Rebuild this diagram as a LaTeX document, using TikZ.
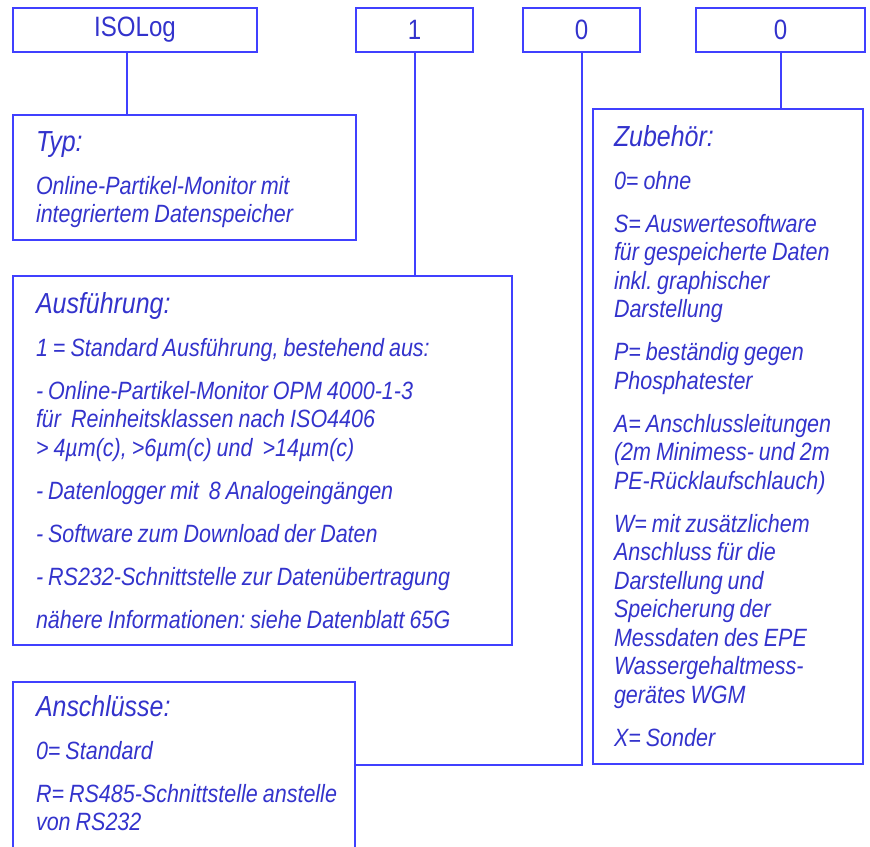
\documentclass[tikz,border=0pt]{standalone}
\usepackage{fontspec}
\setmainfont{Liberation Sans}[FakeStretch=0.86]
\usepackage{tikz}
\usetikzlibrary{positioning}
\definecolor{lineblue}{RGB}{64,64,255}
\definecolor{textblue}{RGB}{51,51,204}
\newcommand{\hfont}{\fontsize{29}{28.5}\selectfont}
\newcommand{\tightspace}{\frenchspacing\spaceskip 5pt plus 1pt minus 0.5pt\relax}

\begin{document}
\begin{tikzpicture}[x=1pt,y=-1pt]
\tikzstyle{code}=[rectangle, draw=lineblue, line width=2pt, anchor=north west, minimum height=44pt, inner sep=0pt, text=textblue, font=\fontsize{28}{30}\selectfont]
\tikzstyle{info}=[rectangle, draw=lineblue, line width=2pt, anchor=north west, align=left, inner xsep=23pt, inner ysep=0pt, text height=37pt, text=textblue, font=\fontsize{25}{28.5}\selectfont\itshape, execute at begin node=\tightspace]
\tikzstyle{connect}=[draw=lineblue, line width=2pt]

\useasboundingbox (0,0) rectangle (870,846);

  \node[code, minimum width=244pt] (iso) at (12,7) {ISOLog};
  \node[code, minimum width=117pt] (one) at (355,7) {1};
  \node[code, minimum width=117pt] (zeroA) at (522,7) {0};
  \node[code, minimum width=169pt] (zeroB) at (695,7) {0};

  \node[info, text width=297pt, text height=36pt, text depth=89pt] (typ) at (12,114)
    {{\hfont Typ:}\\[14.5pt]
     Online-Partikel-Monitor mit\\
     integriertem Datenspeicher};

  \node[info, text width=453pt, text depth=332pt] (ausf) at (12,275)
    {{\hfont Ausführung:}\\[14.5pt]
     1 = Standard Ausführung, bestehend aus:\\[14.5pt]
     - Online-Partikel-Monitor OPM 4000-1-3\\
     für\ \ Reinheitsklassen nach ISO4406\\
     > 4µm(c), >6µm(c) und\ \ >14µm(c)\\[14.5pt]
     - Datenlogger mit\ \ 8 Analogeingängen\\[14.5pt]
     - Software zum Download der Daten\\[14.5pt]
     - RS232-Schnittstelle zur Datenübertragung\\[14.5pt]
     nähere Informationen: siehe Datenblatt 65G};

  \node[info, inner xsep=21pt, text width=228pt, text depth=618pt] (zub) at (592,108)
    {{\hfont Zubehör:}\\[14.5pt]
     0= ohne\\[14.5pt]
     S= Auswertesoftware\\
     für gespeicherte Daten\\
     inkl. graphischer\\
     Darstellung\\[14.5pt]
     P= beständig gegen\\
     Phosphatester\\[14.5pt]
     A= Anschlussleitungen\\
     \mbox{(2m Minimess- und 2m}\\
     PE-Rücklaufschlauch)\\[14.5pt]
     W= mit zusätzlichem\\
     Anschluss für die\\
     Darstellung und\\
     Speicherung der\\
     Messdaten des EPE\\
     Wassergehaltmess-\\
     gerätes WGM\\[14.5pt]
     X= Sonder};

  \node[info, text width=296pt, text height=34pt, text depth=132pt] (ansch) at (12,681)
    {{\hfont Anschlüsse:}\\[14.5pt]
     0= Standard\\[14.5pt]
     \mbox{R= RS485-Schnittstelle anstelle}\\
     von RS232};

  \path[connect] ([xshift=-8pt]iso.south) -- ([xshift=-8pt]iso.south |- typ.north);
  \path[connect] (one.south) -- (one.south |- ausf.north);
  \path[connect] (zeroB.south) -- (zeroB.south |- zub.north);
  \path[connect] (zeroA.south) |- (ansch.east);
\end{tikzpicture}
\end{document}
